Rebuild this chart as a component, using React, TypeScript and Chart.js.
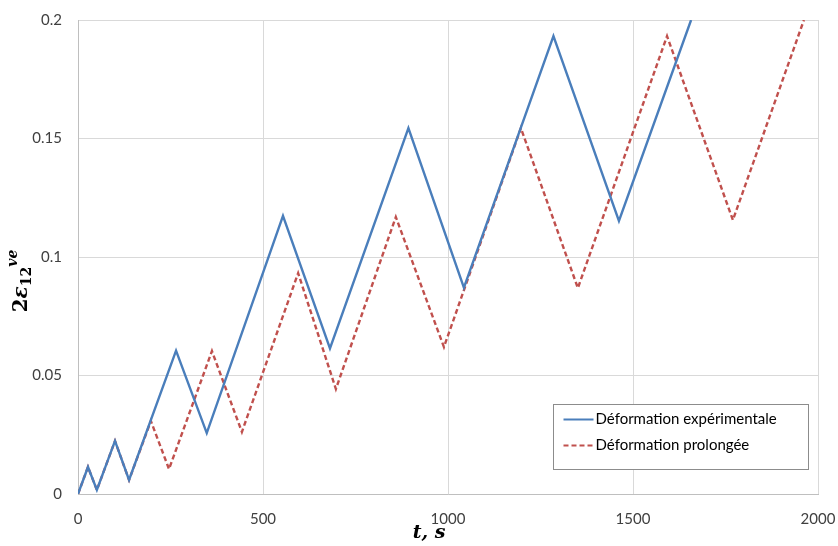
import React, { useEffect, useRef } from "react";
import { Chart, registerables } from "chart.js";

Chart.register(...registerables);

// Experimental strain (time in s, strain)
const expTimes = [0, 27, 51, 100, 138, 265, 348, 554, 681, 893, 1043, 1285, 1462, 1657];
const expStrain = [0, 0.0114, 0.0017, 0.0224, 0.0059, 0.0605, 0.0257, 0.1174, 0.0614, 0.1544, 0.0871, 0.1932, 0.1152, 0.2];

// Prolonged strain
const proTimes = [0, 27, 51, 100, 138, 197, 246, 362, 443, 595, 697, 859, 989, 1197, 1351, 1592, 1770, 1962];
const proStrain = [0, 0.0114, 0.0017, 0.0224, 0.0059, 0.0308, 0.0105, 0.0603, 0.0262, 0.0932, 0.0443, 0.1169, 0.062, 0.1544, 0.0869, 0.1932, 0.1156, 0.2];

const seriesLabels = ["Déformation expérimentale", "Déformation prolongée"];
const xTickLabels = ["0", "500", "1000", "1500", "2000"];
const yTickLabels = ["0", "0.05", "0.1", "0.15", "0.2"];
const xTitle = "t, s";

const BLUE = "#4a7ebb";
const RED = "#c0504d";
const TICK_COLOR = "#404040";
const GRID = "#d9d9d9";

const titlesPlugin = {
  id: "titles",
  afterDraw(chart: any) {
    const ctx = chart.ctx as CanvasRenderingContext2D;
    const area = chart.chartArea;
    ctx.save();
    ctx.fillStyle = "#000";
    ctx.font = "bold italic 19px 'DejaVu Serif'";
    ctx.textAlign = "center";
    ctx.textBaseline = "middle";
    ctx.fillText(xTitle, (area.left + area.right) / 2 - 19, area.bottom + 39);

    // y label: 2ε₁₂^ve
    const parts = [
      { t: "2", f: "bold 20px 'DejaVu Serif'", dy: 0 },
      { t: "ε", f: "bold italic 20px 'DejaVu Serif'", dy: 0 },
      { t: "12", f: "bold 14px 'DejaVu Serif'", dy: 5 },
      { t: "ve", f: "bold italic 14px 'DejaVu Serif'", dy: -9 },
    ];
    let total = 0;
    const widths = parts.map((p) => {
      ctx.font = p.f;
      const w = ctx.measureText(p.t).width;
      total += w;
      return w;
    });
    ctx.translate(22, 281);
    ctx.rotate(-Math.PI / 2);
    ctx.textAlign = "left";
    ctx.textBaseline = "middle";
    let x = -total / 2;
    parts.forEach((p, i) => {
      ctx.font = p.f;
      ctx.fillText(p.t, x, p.dy);
      x += widths[i];
    });
    ctx.restore();
  },
};

const legendPlugin = {
  id: "boxLegend",
  afterDatasetsDraw(chart: any) {
    const ctx = chart.ctx as CanvasRenderingContext2D;
    const area = chart.chartArea;
    const bx = Math.round(area.right - 265) + 0.5;
    const by = Math.round(area.bottom - 90) + 0.5;
    const bw = 255;
    const bh = 65;
    ctx.save();
    ctx.fillStyle = "#fff";
    ctx.fillRect(bx, by, bw, bh);
    ctx.strokeStyle = "#8c8c8c";
    ctx.lineWidth = 1;
    ctx.strokeRect(bx, by, bw, bh);
    chart.data.datasets.forEach((ds: any, i: number) => {
      const y = by + 15 + i * 26;
      ctx.strokeStyle = ds.borderColor;
      ctx.lineWidth = 2;
      ctx.setLineDash(ds.borderDash || []);
      ctx.beginPath();
      ctx.moveTo(bx + 10, y);
      ctx.lineTo(bx + 40, y);
      ctx.stroke();
      ctx.setLineDash([]);
      ctx.fillStyle = "#000";
      ctx.font = "15px Lato";
      ctx.textAlign = "left";
      ctx.textBaseline = "middle";
      ctx.fillText(ds.label, bx + 42, y);
    });
    ctx.restore();
  },
};

function zeroPad(s: any) {
  s.paddingLeft = 0;
  s.paddingRight = 0;
  s.paddingTop = 0;
  s.paddingBottom = 0;
}

export default function App() {
  const ref = useRef<HTMLCanvasElement | null>(null);
  useEffect(() => {
    if (!ref.current) return;
    const chart = new Chart(ref.current, {
      type: "line",
      data: {
        datasets: [
          {
            label: seriesLabels[0],
            data: expTimes.map((t, i) => ({ x: t, y: expStrain[i] })),
            borderColor: BLUE,
            borderWidth: 2.4,
            pointRadius: 0,
            tension: 0,
          },
          {
            label: seriesLabels[1],
            data: proTimes.map((t, i) => ({ x: t, y: proStrain[i] })),
            borderColor: RED,
            borderWidth: 2.4,
            borderDash: [5, 3],
            pointRadius: 0,
            tension: 0,
          },
        ],
      },
      options: {
        animation: false,
        responsive: false,
        maintainAspectRatio: false,
        layout: { padding: { top: 20, right: 20, left: 0, bottom: 0 } },
        plugins: { legend: { display: false }, tooltip: { enabled: false } },
        scales: {
          x: {
            type: "linear",
            min: 0,
            max: 2000,
            ticks: {
              stepSize: 500,
              callback: (_v: any, i: number) => xTickLabels[i],
              font: { family: "Lato", size: 15 },
              color: TICK_COLOR,
              padding: 16,
              maxRotation: 0,
            },
            grid: { color: GRID, drawTicks: false },
            border: { color: "#bfbfbf" },
            afterFit(s: any) {
              s.height = 52;
              zeroPad(s);
            },
          },
          y: {
            type: "linear",
            min: 0,
            max: 0.2,
            ticks: {
              stepSize: 0.05,
              callback: (_v: any, i: number) => yTickLabels[i],
              font: { family: "Lato", size: 15 },
              color: TICK_COLOR,
              padding: 16,
            },
            grid: { color: GRID, drawTicks: false },
            border: { color: "#bfbfbf" },
            afterFit(s: any) {
              s.width = 78;
              zeroPad(s);
            },
          },
        },
      },
      plugins: [legendPlugin, titlesPlugin],
    } as any);
    return () => chart.destroy();
  }, []);
  return (
    <div style={{ position: "fixed", left: 0, top: 0, width: 838, height: 546, background: "#fff" }}>
      <canvas ref={ref} width={838} height={546} style={{ width: 838, height: 546 }} />
    </div>
  );
}
